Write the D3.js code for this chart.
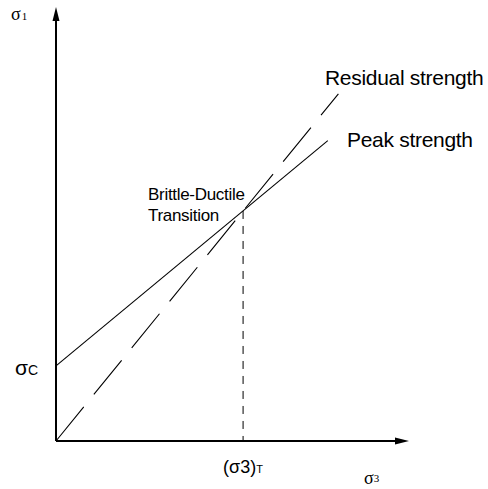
<!DOCTYPE html>
<html>
<head>
<meta charset="utf-8">
<script src="https://cdn.jsdelivr.net/npm/d3@7"></script>
<style>
  html, body { margin: 0; padding: 0; background: #fff; }
  svg { display: block; }
  text { font-family: "Liberation Sans", Arial, sans-serif; fill: #000; }
  .serif { font-family: "Liberation Serif", "Times New Roman", serif; }
</style>
</head>
<body>
<svg id="chart" width="488" height="489"></svg>
<script>
// Confining stress sigma3 vs. peak / residual axial strength sigma1 (arbitrary units)
const peakSigma3 = [0, 77];
const peakSigma1 = [17.3, 69.2];
const residualSigma3 = [0, 80];
const residualSigma1 = [0, 80];
const transitionSigma3 = 53;
const transitionSigma1 = 53;
const sigmaC = 17.3;
const seriesNames = ["Peak strength", "Residual strength"];
const transitionLabel = ["Brittle-Ductile", "Transition"];

const svg = d3.select("#chart");
const x = d3.scaleLinear().domain([0, 100]).range([56, 409]);
const y = d3.scaleLinear().domain([0, 100]).range([441, 7]);

const line = d3.line().x(d => x(d[0])).y(d => y(d[1]));

// axes with arrow heads
svg.append("line")
  .attr("x1", x(0)).attr("y1", y(0)).attr("x2", x(0)).attr("y2", y(100) + 10)
  .attr("stroke", "#000").attr("stroke-width", 2);
svg.append("line")
  .attr("x1", x(0)).attr("y1", y(0)).attr("x2", x(100) - 10).attr("y2", y(0))
  .attr("stroke", "#000").attr("stroke-width", 2);
svg.append("path")
  .attr("d", `M${x(0)},${y(100)} L${x(0) - 3.5},${y(100) + 14} L${x(0) + 3.5},${y(100) + 14} Z`)
  .attr("fill", "#000");
svg.append("path")
  .attr("d", `M${x(100)},${y(0)} L${x(100) - 14},${y(0) - 3.5} L${x(100) - 14},${y(0) + 3.5} Z`)
  .attr("fill", "#000");

// peak strength envelope
svg.append("path")
  .attr("d", line(d3.zip(peakSigma3, peakSigma1)))
  .attr("fill", "none").attr("stroke", "#000").attr("stroke-width", 1.1);

// residual strength envelope (dashed)
svg.append("path")
  .attr("d", line(d3.zip(residualSigma3, residualSigma1)))
  .attr("fill", "none").attr("stroke", "#000").attr("stroke-width", 1.1)
  .attr("stroke-dasharray", "44,16");

// drop line at the transition confining stress
svg.append("line")
  .attr("x1", x(transitionSigma3)).attr("y1", y(transitionSigma1))
  .attr("x2", x(transitionSigma3)).attr("y2", y(0))
  .attr("stroke", "#000").attr("stroke-width", 1)
  .attr("stroke-dasharray", "8,7");

// series labels
svg.append("text").attr("x", 325).attr("y", 85)
  .attr("font-size", 21).attr("letter-spacing", -0.3).text(seriesNames[1]);
svg.append("text").attr("x", 347).attr("y", 147)
  .attr("font-size", 21).attr("letter-spacing", -0.3).text(seriesNames[0]);

// transition label
svg.append("text").attr("x", 148).attr("y", 200)
  .attr("font-size", 17).attr("letter-spacing", -0.3).text(transitionLabel[0]);
svg.append("text").attr("x", 148).attr("y", 221)
  .attr("font-size", 17).attr("letter-spacing", -0.3).text(transitionLabel[1]);

// axis symbols
const s1 = svg.append("text").attr("class", "serif").attr("x", 11).attr("y", 20);
s1.append("tspan").attr("font-size", 18).text("σ");
s1.append("tspan").attr("font-size", 11).attr("dx", 1).text("1");

const sc = svg.append("text").attr("x", 15).attr("y", y(sigmaC) + 9);
sc.append("tspan").attr("font-size", 21).text("σ");
sc.append("tspan").attr("font-size", 14).text("C");

const s3t = svg.append("text").attr("x", x(transitionSigma3) - 20).attr("y", 473);
s3t.append("tspan").attr("font-size", 18).text("(σ3)");
s3t.append("tspan").attr("font-size", 11).text("T");

const s3 = svg.append("text").attr("class", "serif").attr("x", 364).attr("y", 484);
s3.append("tspan").attr("font-size", 18).text("σ");
s3.append("tspan").attr("font-size", 11).attr("dy", -2).text("3");
</script>
</body>
</html>
